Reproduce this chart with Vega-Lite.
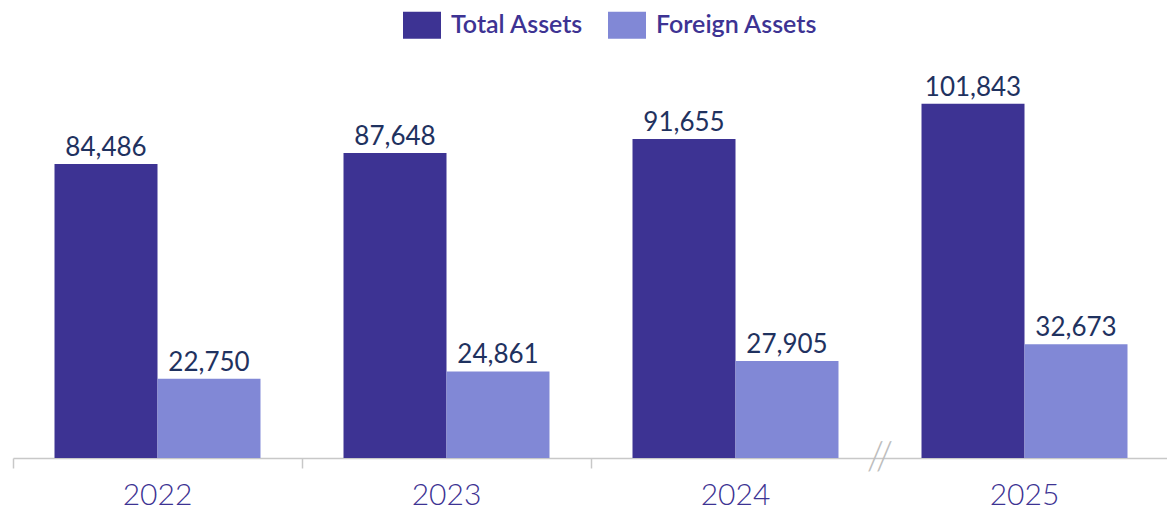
{
  "$schema": "https://vega.github.io/schema/vega-lite/v6.json",
  "width": 1156,
  "height": 413,
  "autosize": {"type": "none"},
  "padding": {"left": 13, "top": 45, "right": 0, "bottom": 53},
  "background": "white",
  "config": {"view": {"stroke": null}, "font": "Lato"},
  "data": {
    "values": [
      {"year": "2022", "series": "Total Assets", "value": 84486},
      {"year": "2022", "series": "Foreign Assets", "value": 22750},
      {"year": "2023", "series": "Total Assets", "value": 87648},
      {"year": "2023", "series": "Foreign Assets", "value": 24861},
      {"year": "2024", "series": "Total Assets", "value": 91655},
      {"year": "2024", "series": "Foreign Assets", "value": 27905},
      {"year": "2025", "series": "Total Assets", "value": 101843},
      {"year": "2025", "series": "Foreign Assets", "value": 32673}
    ]
  },
  "encoding": {
    "x": {
      "field": "year",
      "type": "nominal",
      "scale": {"paddingInner": 0, "paddingOuter": 0},
      "axis": {
        "title": null,
        "labelAngle": 0,
        "bandPosition": 0,
        "labelFont": "Lato",
        "labelFontWeight": 300,
        "labelFontSize": 30,
        "labelColor": "#3d3393",
        "labelPadding": 12,
        "labelBound": false,
        "domainColor": "#c8c8c8",
        "domainWidth": 1.5,
        "tickSize": 10,
        "tickWidth": 1.5,
        "tickColor": {"condition": {"test": "datum.value === '2025'", "value": "rgba(0,0,0,0)"}, "value": "#c8c8c8"}
      }
    }
  },
  "layer": [
    {
      "mark": {"type": "bar"},
      "encoding": {
        "xOffset": {"field": "series", "type": "nominal", "sort": ["Total Assets", "Foreign Assets"], "scale": {"paddingInner": 0, "paddingOuter": 0.403}},
        "y": {"field": "value", "type": "quantitative", "scale": {"domain": [0, 118700]}, "axis": null},
        "color": {
          "field": "series",
          "type": "nominal",
          "scale": {"domain": ["Total Assets", "Foreign Assets"], "range": ["#3d3393", "#8188d6"]},
          "legend": {
            "title": null,
            "orient": "none",
            "direction": "horizontal",
            "legendX": 390,
            "legendY": -39,
            "symbolType": "M-1,-0.71L1,-0.71L1,0.71L-1,0.71Z",
            "symbolSize": 1444,
            "symbolStrokeWidth": 0,
            "labelFont": "Lato",
            "labelFontSize": 25,
            "labelFontWeight": 600,
            "labelColor": "#3d3393",
            "labelOffset": 10,
            "columnPadding": 24,
            "labelLimit": 400
          }
        }
      }
    },
    {
      "mark": {"type": "text", "baseline": "alphabetic", "dy": -8, "fontSize": 26, "font": "Lato", "color": "#1f325f"},
      "encoding": {
        "xOffset": {"field": "series", "type": "nominal", "sort": ["Total Assets", "Foreign Assets"], "scale": {"paddingInner": 0, "paddingOuter": 0.403}},
        "y": {"field": "value", "type": "quantitative", "scale": {"domain": [0, 118700]}},
        "text": {"field": "value", "type": "quantitative", "format": ",d"}
      }
    },
    {
      "data": {"values": [{"year": "2025", "mark": "//"}]},
      "mark": {"type": "text", "baseline": "middle", "align": "center", "fontSize": 40, "font": "Lato", "fontWeight": 300, "color": "#bdbdbd"},
      "encoding": {
        "x": {"field": "year", "type": "nominal", "bandPosition": 0},
        "y": {"datum": 0, "type": "quantitative", "scale": {"domain": [0, 118700]}},
        "text": {"field": "mark"}
      }
    }
  ]
}
